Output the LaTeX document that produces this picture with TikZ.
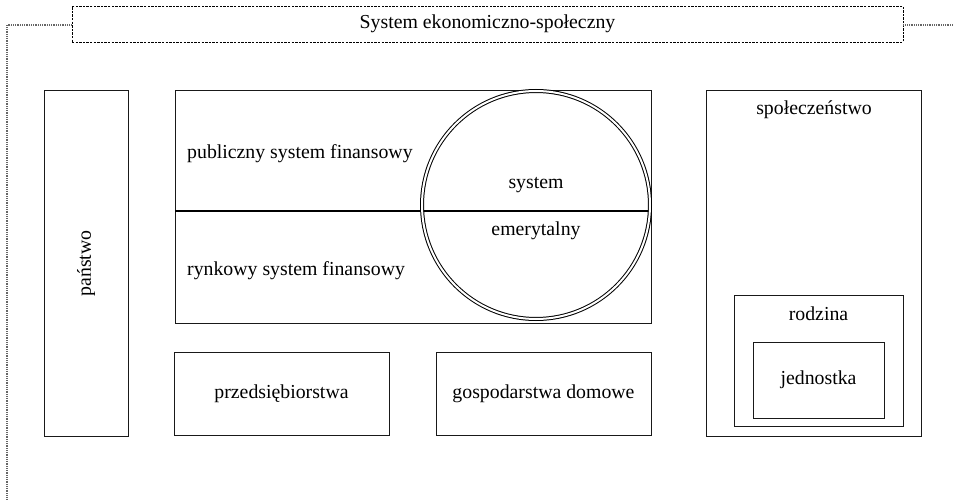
\documentclass[tikz,border=0pt]{standalone}
\usepackage{fontspec}
\setmainfont{Liberation Serif}
\begin{document}
\begin{tikzpicture}[x=1pt,y=-1pt,
  box/.style={draw=black!90, line width=1pt, inner sep=0pt, font=\fontsize{19.8}{23}\selectfont},
  lbl/.style={font=\fontsize{19.8}{23}\selectfont, inner sep=0pt},
  framelink/.style={draw=black!60, line width=1.3pt, dash pattern=on 0.9pt off 0.9pt},
  titlebox/.style={draw=black, line width=0.9pt, dash pattern=on 2.4pt off 1.2pt, inner sep=0pt, font=\fontsize{19.8}{23}\selectfont}]
\useasboundingbox (0,0) rectangle (954,500);

% title and frame
\node[titlebox, minimum width=831pt, minimum height=36pt] (title) at (487.5,24) {System ekonomiczno-społeczny};
\coordinate (tl) at (7,25);
\coordinate (bl) at (7,500);
\coordinate (tr) at (954,25);
\draw[framelink] (title.west |- tl) -- (tl) -- (bl);
\draw[framelink] (title.east |- tr) -- (tr);

% państwo
\node[box, minimum width=345pt, minimum height=84pt, rotate=90] (panstwo) at (86,263.5) {państwo};

% main financial box
\node[box, minimum width=476pt, minimum height=232pt] (main) at (413,207) {};
\coordinate (midL) at (175,211);
\coordinate (midR) at (651,211);
\draw[line width=1.3pt] (midL) -- (midR);
\node[lbl, anchor=base west] (publ) at (187,158.3) {publiczny system finansowy};
\node[lbl, anchor=base west] (rynk) at (187,275.7) {rynkowy system finansowy};

% circle
\node[circle, draw, double, double distance=2pt, line width=1pt, inner sep=0pt, minimum size=228pt] (circ) at (536,205) {};
\node[lbl, anchor=base] (sys) at (536,188.3) {system};
\node[lbl, anchor=base] (emer) at (536,235.3) {emerytalny};

% bottom boxes
\node[box, minimum width=215pt, minimum height=83pt] (przeds) at (281.5,393.5) {przedsiębiorstwa};
\node[box, minimum width=215pt, minimum height=83pt] (gosp) at (543.5,393.5) {gospodarstwa domowe};

% right side
\node[box, minimum width=215pt, minimum height=345pt] (spol) at (813.5,263.5) {};
\node[lbl, anchor=base] (spolt) at (814,115) {społeczeństwo};
\node[box, minimum width=169pt, minimum height=131pt] (rodz) at (818.5,360.5) {};
\node[lbl, anchor=base] (rodzt) at (818.5,320.7) {rodzina};
\node[box, minimum width=131pt, minimum height=76pt] (jedn) at (818.5,380) {jednostka};
\end{tikzpicture}
\end{document}
